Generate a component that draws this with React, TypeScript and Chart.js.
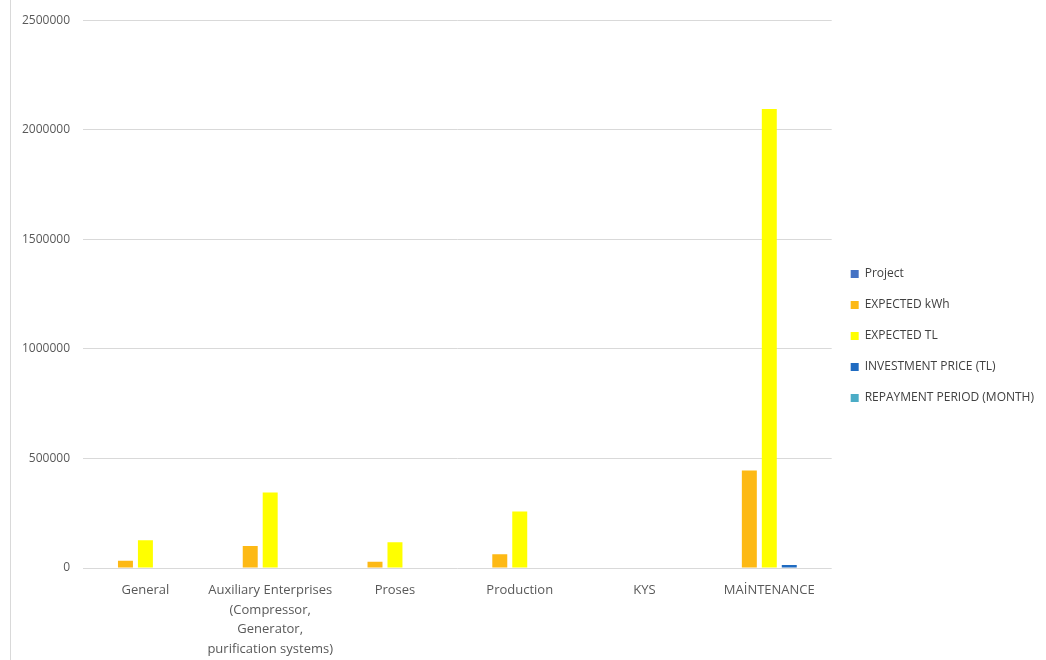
import React, { useEffect, useRef } from "react";
import { Chart, registerables } from "chart.js";

Chart.register(...registerables);

const categories: (string | string[])[] = [
  "General",
  ["Auxiliary Enterprises", "(Compressor,", "Generator,", "purification systems)"],
  "Proses",
  "Production",
  "KYS",
  "MAİNTENANCE",
];

const projectValues = [0, 0, 0, 0, 0, 0];
const expectedKwh = [33000, 100000, 28000, 63000, 0, 445000];
const expectedTl = [127000, 345000, 118000, 258000, 0, 2095000];
const investmentPrice = [0, 0, 0, 0, 0, 14000];
const repaymentPeriod = [0, 0, 0, 0, 0, 0];

const yTicks = [0, 500000, 1000000, 1500000, 2000000, 2500000];

const FONT = "'Open Sans', 'Noto Sans', sans-serif";

export default function App() {
  const ref = useRef<HTMLCanvasElement | null>(null);

  useEffect(() => {
    if (!ref.current) return;
    const chart = new Chart(ref.current, {
      type: "bar",
      data: {
        labels: categories,
        datasets: [
          { label: "Project", data: projectValues, backgroundColor: "#4472C4" },
          { label: "EXPECTED kWh", data: expectedKwh, backgroundColor: "#FDB915" },
          { label: "EXPECTED TL", data: expectedTl, backgroundColor: "#FFFF00" },
          { label: "INVESTMENT PRICE (TL)", data: investmentPrice, backgroundColor: "#1F6BC1" },
          { label: "REPAYMENT PERIOD (MONTH)", data: repaymentPeriod, backgroundColor: "#4BACC6" },
        ],
      },
      options: {
        animation: false,
        responsive: false,
        maintainAspectRatio: false,
        layout: { padding: { top: 8, left: 9, right: 2, bottom: -4 } },
        datasets: { bar: { barPercentage: 0.75, categoryPercentage: 0.8 } },
        plugins: {
          legend: {
            position: "right",
            labels: {
              boxWidth: 8,
              boxHeight: 8,
              padding: 19,
              color: "#404040",
              font: { family: FONT, size: 12 },
            },
          },
          tooltip: { enabled: false },
        },
        scales: {
          x: {
            grid: { display: false },
            border: { display: false },
            ticks: {
              color: "#595959",
              font: { family: FONT, size: 13, lineHeight: 1.5 },
              maxRotation: 0,
              autoSkip: false,
              padding: 5,
            },
          },
          y: {
            min: 0,
            max: 2500000,
            afterBuildTicks: (axis: any) => {
              axis.ticks = yTicks.map((v) => ({ value: v }));
            },
            grid: { color: "#D9D9D9", drawTicks: false, lineWidth: 1 },
            border: { display: false },
            ticks: {
              color: "#595959",
              font: { family: FONT, size: 12 },
              padding: 13,
              callback: (v: any) => String(v),
            },
          },
        },
      },
    });
    return () => chart.destroy();
  }, []);

  return (
    <div style={{ position: "fixed", left: 0, top: 0, width: 1046, height: 660, background: "#fff" }}>
      <div style={{ position: "absolute", left: 10, top: 0, width: 1, height: 660, background: "#D9D9D9" }} />
      <canvas ref={ref} width={1046} height={660} style={{ position: "absolute", left: 0, top: 0 }} />
    </div>
  );
}
